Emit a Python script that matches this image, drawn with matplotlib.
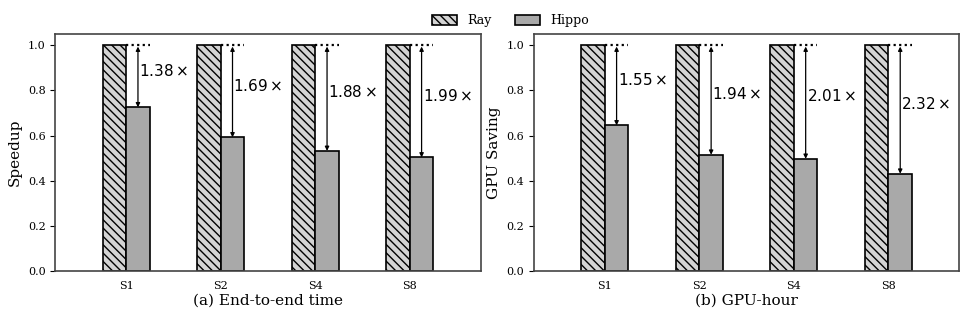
import numpy as np
import matplotlib.pyplot as plt

setups = ["S1", "S2", "S4", "S8"]
ray_time = [1.0, 1.0, 1.0, 1.0]
hippo_time = [0.725, 0.592, 0.532, 0.503]
speedup_labels = ["1.38", "1.69", "1.88", "1.99"]
ray_gpu = [1.0, 1.0, 1.0, 1.0]
hippo_gpu = [0.645, 0.515, 0.497, 0.431]
saving_labels = ["1.55", "1.94", "2.01", "2.32"]

plt.rcParams["font.family"] = "DejaVu Serif"

fig, axes = plt.subplots(1, 2, figsize=(9.69, 3.2), dpi=100)
fig.subplots_adjust(left=0.057, right=0.99, top=0.894, bottom=0.153, wspace=0.125)

panels = [
    (axes[0], ray_time, hippo_time, speedup_labels, "Speedup", "(a) End-to-end time"),
    (axes[1], ray_gpu, hippo_gpu, saving_labels, "GPU Saving", "(b) GPU-hour"),
]

w = 0.25
x = np.arange(len(setups))
for ax, ray, hippo, labels, ylab, title in panels:
    ax.bar(x - w / 2, ray, w, color="#d3d3d3", edgecolor="black",
           hatch="\\\\\\\\", linewidth=1.2, label="Ray")
    ax.bar(x + w / 2, hippo, w, color="#a9a9a9", edgecolor="black",
           linewidth=1.2, label="Hippo")
    for i in range(len(setups)):
        # dotted reference line at the Ray height
        ax.plot([x[i], x[i] + w], [ray[i], ray[i]], color="black",
                linestyle=(0, (1, 1.5)), linewidth=1.6)
        ax.annotate("", xy=(x[i] + w / 2, hippo[i]), xytext=(x[i] + w / 2, ray[i]),
                    arrowprops=dict(arrowstyle="<|-|>", color="black", lw=0.9,
                                    mutation_scale=6, shrinkA=1, shrinkB=0))
        ax.text(x[i] + w / 2 + 0.01, (ray[i] + hippo[i]) / 2 + 0.025,
                "$" + labels[i] + r"\times$", fontsize=11,
                ha="left", va="center")
    ax.set_xlim(-0.75, 3.75)
    ax.set_ylim(0, 1.05)
    ax.set_xticks(x)
    ax.set_xticklabels(setups, fontsize=8)
    ax.tick_params(axis="y", labelsize=8)
    ax.tick_params(axis="x", length=0, pad=7)
    ax.set_ylabel(ylab, fontsize=11)
    ax.set_xlabel(title, fontsize=11, labelpad=2)
    for s in ax.spines.values():
        s.set_color("#444444")
        s.set_linewidth(1.2)

handles, lbls = axes[0].get_legend_handles_labels()
fig.legend(handles, lbls, loc="upper center", ncol=2, frameon=False,
           fontsize=9, bbox_to_anchor=(0.527, 0.99), columnspacing=1.9,
           handlelength=2.0, handleheight=0.8)

fig.savefig("out.png", dpi=100)
